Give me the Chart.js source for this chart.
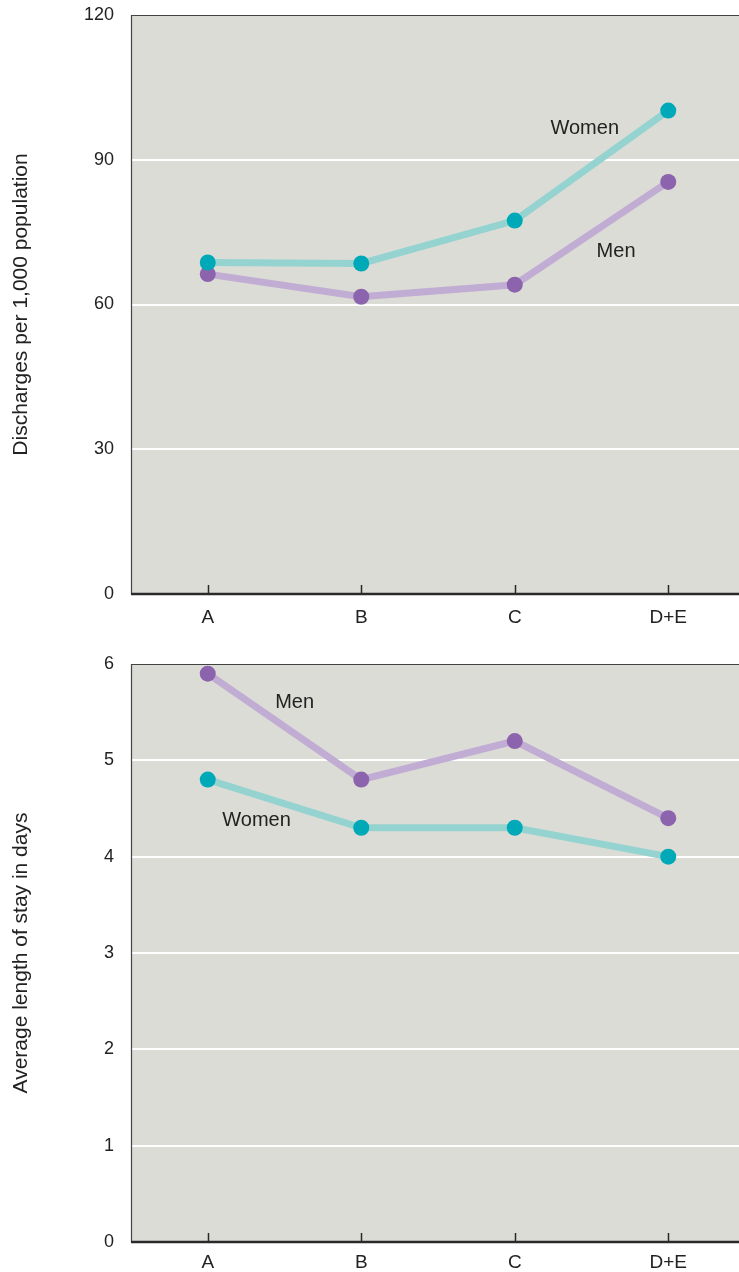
<!DOCTYPE html>
<html>
<head>
<meta charset="utf-8">
<script src="https://cdn.jsdelivr.net/npm/chart.js@4/dist/chart.umd.min.js"></script>
<style>
  html, body { margin: 0; padding: 0; background: #fff; overflow: hidden; }
  .panel { position: absolute; left: 0; width: 745px; }
  .panel canvas { display: block; }
</style>
</head>
<body>
<div class="panel" style="top:0"><canvas id="discharges" width="745" height="640"></canvas></div>
<div class="panel" style="top:640px"><canvas id="stay" width="745" height="632"></canvas></div>
<script>
/******************************************************************************
  DATA
******************************************************************************/
var categories = ['A', 'B', 'C', 'D+E']

var dischargeWomen = [68.7, 68.5, 77.4, 100.2]
var dischargeMen = [66.3, 61.6, 64.1, 85.4]
var dischargeTicks = [0, 30, 60, 90, 120]

var stayMen = [5.9, 4.8, 5.2, 4.4]
var stayWomen = [4.8, 4.3, 4.3, 4.0]
var stayTicks = [0, 1, 2, 3, 4, 5, 6]

// COLORS
var plotBg = '#DCDCD6'
var womenLine = '#95D3D1'
var womenDot = '#00A9B7'
var menLine = '#C1ADD3'
var menDot = '#8C63AD'
var ink = '#222222'
var frame = '#444444'

// FONT
var family = '"Liberation Sans", Arial, Helvetica, sans-serif'

/******************************************************************************
  PLUGINS
******************************************************************************/
// plot background, frame, axis and upward tick marks
var framePlugin = {
  id: 'frame',
  beforeDraw: function (chart) {
    var a = chart.chartArea
    var ctx = chart.ctx
    ctx.save()
    ctx.fillStyle = plotBg
    ctx.fillRect(a.left, a.top, a.right - a.left, a.bottom - a.top)
    ctx.restore()
  },
  afterDraw: function (chart) {
    var a = chart.chartArea
    var ctx = chart.ctx
    var x = chart.scales.x
    ctx.save()
    ctx.strokeStyle = frame
    ctx.lineWidth = 1.2
    ctx.beginPath()
    ctx.moveTo(a.left + 0.5, a.bottom)
    ctx.lineTo(a.left + 0.5, a.top + 0.5)
    ctx.lineTo(a.right, a.top + 0.5)
    ctx.stroke()
    // upward ticks
    ctx.strokeStyle = '#2a2a2a'
    ctx.lineWidth = 1.5
    ctx.beginPath()
    categories.forEach(function (c, i) {
      var px = Math.round(x.getPixelForValue(i)) + 0.5
      ctx.moveTo(px, a.bottom)
      ctx.lineTo(px, a.bottom - 9)
    })
    ctx.stroke()
    // axis line
    ctx.lineWidth = 2.5
    ctx.beginPath()
    ctx.moveTo(a.left, a.bottom)
    ctx.lineTo(a.right, a.bottom)
    ctx.stroke()
    ctx.restore()
  }
}

// series names written next to the lines
var notesPlugin = {
  id: 'notes',
  afterDatasetsDraw: function (chart, args, opts) {
    var ctx = chart.ctx
    ctx.save()
    ctx.fillStyle = ink
    ctx.font = '20px ' + family
    ctx.textAlign = 'center'
    ctx.textBaseline = 'middle'
    opts.items.forEach(function (n) {
      ctx.fillText(n.text, chart.scales.x.getPixelForValue(n.at), chart.scales.y.getPixelForValue(n.value))
    })
    ctx.restore()
  }
}

/******************************************************************************
  CHARTS
******************************************************************************/
function lineSet (label, values, line, dot) {
  return {
    label: label,
    data: values,
    borderColor: line,
    borderWidth: 7,
    pointBackgroundColor: dot,
    pointBorderWidth: 0,
    pointRadius: 8,
    pointHoverRadius: 8,
    tension: 0
  }
}

function noPad (s) {
  s.paddingTop = 0
  s.paddingBottom = 0
  s.paddingLeft = 0
  s.paddingRight = 0
}

function makeChart (id, sets, ticks, title, notes, padTop, xHeight, xPad) {
  var max = ticks[ticks.length - 1]
  return new Chart(document.getElementById(id), {
    type: 'line',
    data: { labels: categories, datasets: sets },
    plugins: [framePlugin, notesPlugin],
    options: {
      responsive: false,
      animation: false,
      layout: { autoPadding: false, padding: { top: padTop, left: 0, right: 0, bottom: 0 } },
      plugins: {
        legend: { display: false },
        tooltip: { enabled: false },
        notes: { items: notes }
      },
      scales: {
        x: {
          offset: true,
          grid: { display: false },
          border: { display: false },
          ticks: { color: ink, font: { family: family, size: 19 }, padding: xPad, maxRotation: 0 },
          afterFit: function (s) { s.height = xHeight; noPad(s) }
        },
        y: {
          min: 0,
          max: max,
          afterBuildTicks: function (s) { s.ticks = ticks.map(function (v) { return { value: v } }) },
          grid: {
            drawTicks: false,
            lineWidth: 2,
            color: function (c) {
              return (c.tick.value === 0 || c.tick.value === max) ? 'rgba(0,0,0,0)' : '#ffffff'
            }
          },
          border: { display: false },
          ticks: { color: ink, font: { family: family, size: 18 }, padding: 17 },
          title: {
            display: true,
            text: title,
            color: ink,
            font: { family: family, size: 21 },
            padding: { top: 9, bottom: 0 }
          },
          afterFit: function (s) { s.width = 131; noPad(s) }
        }
      }
    }
  })
}

makeChart('discharges',
  [lineSet('Women', dischargeWomen, womenLine, womenDot), lineSet('Men', dischargeMen, menLine, menDot)],
  dischargeTicks,
  'Discharges per 1,000 population',
  [{ text: 'Women', at: 2.456, value: 96.4 }, { text: 'Men', at: 2.66, value: 71.0 }],
  15, 46, 4)

makeChart('stay',
  [lineSet('Men', stayMen, menLine, menDot), lineSet('Women', stayWomen, womenLine, womenDot)],
  stayTicks,
  'Average length of stay in days',
  [{ text: 'Men', at: 0.566, value: 5.6 }, { text: 'Women', at: 0.318, value: 4.375 }],
  24, 30, 1)
</script>
</body>
</html>
